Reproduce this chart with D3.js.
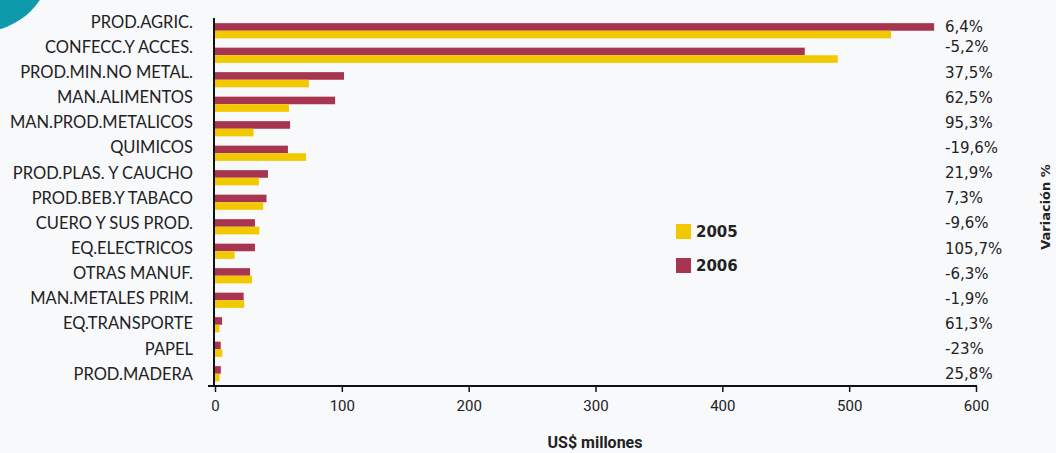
<!DOCTYPE html>
<meta charset="utf-8">
<style>
  body { margin: 0; background: #f8f9fb; }
  svg { display: block; }
  text { fill: #222; }
</style>
<body>
<svg width="1056" height="453"></svg>
<script src="https://cdn.jsdelivr.net/npm/d3@7/dist/d3.min.js"></script>
<script>

    // data (US$ millones)
    var categories = ["PROD.AGRIC.", "CONFECC.Y ACCES.", "PROD.MIN.NO METAL.", "MAN.ALIMENTOS",
        "MAN.PROD.METALICOS", "QUIMICOS", "PROD.PLAS. Y CAUCHO", "PROD.BEB.Y TABACO",
        "CUERO Y SUS PROD.", "EQ.ELECTRICOS", "OTRAS MANUF.", "MAN.METALES PRIM.",
        "EQ.TRANSPORTE", "PAPEL", "PROD.MADERA"];
    var values2005 = [533, 491, 74, 58.3, 30.4, 71.8, 34.6, 38, 35, 15.4, 29.2, 23, 3.5, 5.8, 3.6];
    var values2006 = [567, 465, 101.7, 94.7, 59.2, 57.5, 41.8, 40.6, 31.5, 31.5, 27.6, 22.6, 5.6, 4.5, 4.6];
    var variation = ["6,4%", "-5,2%", "37,5%", "62,5%", "95,3%", "-19,6%", "21,9%", "7,3%",
        "-9,6%", "105,7%", "-6,3%", "-1,9%", "61,3%", "-23%", "25,8%"];
    var xTicks = [0, 100, 200, 300, 400, 500, 600];
    var seriesNames = ["2005", "2006"];
    var colors = {"2005": "#f2c900", "2006": "#a8354f"};

    var svg = d3.select("svg");

    // teal corner decoration
    svg.append("circle")
        .attr("cx", -20).attr("cy", -40).attr("r", 72)
        .attr("fill", "#0d9bab");

    var x = d3.scaleLinear().domain([0, 600]).range([215, 976]);
    var y = d3.scaleBand().domain(categories).range([18.5, 386]).paddingInner(0.38).paddingOuter(0.19);
    var sub = d3.scaleBand().domain(["2006", "2005"]).range([0, y.bandwidth()]);
    // text rows are spaced a little wider than the bars
    var yLbl = d3.scalePoint().domain(categories).range([22, 374]);

    var rows = categories.map(function (c, i) {
        return {cat: c, "2005": values2005[i], "2006": values2006[i], v: variation[i]};
    });

    // bars
    var g = svg.append("g");
    rows.forEach(function (d) {
        ["2006", "2005"].forEach(function (s) {
            g.append("rect")
                .attr("x", x(0))
                .attr("y", y(d.cat) + sub(s))
                .attr("width", x(d[s]) - x(0))
                .attr("height", sub.bandwidth())
                .attr("fill", colors[s]);
        });
    });

    // category labels
    svg.append("g").selectAll("text")
        .data(categories)
        .enter().append("text")
        .attr("x", 193)
        .attr("y", function (d) { return yLbl(d); })
        .attr("dy", "0.35em")
        .attr("text-anchor", "end")
        .style("font-family", "Lato, sans-serif")
        .style("font-size", "16.5px")
        .text(function (d) { return d; });

    // y axis line
    svg.append("line")
        .attr("x1", 214).attr("x2", 214)
        .attr("y1", 18).attr("y2", 387)
        .attr("stroke", "#111").attr("stroke-width", 2);

    // x axis
    var xAxis = svg.append("g")
        .attr("transform", "translate(0,386)")
        .call(d3.axisBottom(x).tickValues(xTicks).tickSize(6).tickPadding(8).tickSizeOuter(0));
    xAxis.select(".domain").remove();
    xAxis.append("line")
        .attr("x1", 208).attr("x2", 977)
        .attr("stroke", "#111").attr("stroke-width", 2);
    xAxis.selectAll(".tick line").attr("stroke", "#111").attr("stroke-width", 1.5);
    xAxis.selectAll(".tick text")
        .style("font-family", "Roboto, sans-serif")
        .style("font-size", "15px")
        .attr("fill", "#222");

    svg.append("text")
        .attr("x", 595).attr("y", 448)
        .attr("text-anchor", "middle")
        .style("font-family", "Roboto, sans-serif")
        .style("font-weight", "bold")
        .style("font-size", "16px")
        .text("US$ millones");

    // variation labels
    svg.append("g").selectAll("text")
        .data(rows)
        .enter().append("text")
        .attr("x", 945)
        .attr("y", function (d, i) { return yLbl(d.cat) + (i === 0 ? 5 : 0); })
        .attr("dy", "0.35em")
        .style("font-family", "'DejaVu Sans', sans-serif")
        .style("font-size", "15px")
        .text(function (d) { return d.v; });

    svg.append("text")
        .attr("transform", "translate(1050,207) rotate(-90)")
        .attr("text-anchor", "middle")
        .style("font-family", "'DejaVu Sans', sans-serif")
        .style("font-weight", "bold")
        .style("font-size", "13px")
        .text("Variación %");

    // legend
    var legend = svg.append("g").selectAll("g")
        .data(seriesNames)
        .enter().append("g")
        .attr("transform", function (d, i) { return "translate(676," + (224 + i * 34) + ")"; });
    legend.append("rect")
        .attr("width", 15).attr("height", 15)
        .attr("fill", function (d) { return colors[d]; });
    legend.append("text")
        .attr("x", 20).attr("y", 8)
        .attr("dy", "0.35em")
        .style("font-family", "'DejaVu Sans', sans-serif")
        .style("font-weight", "bold")
        .style("font-size", "15px")
        .text(function (d) { return d; });

</script>
</body>
